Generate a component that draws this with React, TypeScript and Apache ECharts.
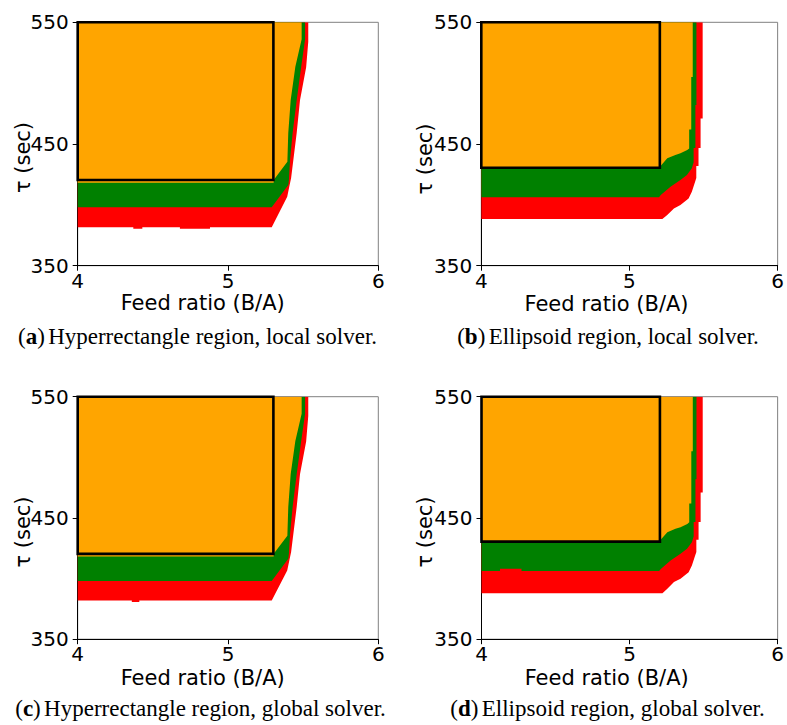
import React, { useEffect, useRef } from "react";
import * as echarts from "echarts";

type Pt = [number, number];

const X_TICKS = [4, 5, 6];
const Y_TICKS = [350, 450, 550];
const X_RANGE = [4, 6];
const Y_RANGE = [350, 550];

// (a) Hyperrectangle region, local solver
const A_RED: Pt[] = [[4, 550], [5.534, 550], [5.534, 534], [5.52, 513], [5.479, 486], [5.457, 459], [5.435, 437], [5.42, 422], [5.408, 415], [5.394, 406.6], [5.291, 381.5], [4.88, 381.5], [4.88, 380.3], [4.68, 380.3], [4.68, 381.5], [4.43, 381.5], [4.43, 380.3], [4.37, 380.3], [4.37, 381.5], [4, 381.5]];
const A_GREEN: Pt[] = [[4, 550], [5.513, 550], [5.513, 536], [5.487, 513.5], [5.457, 486], [5.43, 459], [5.413, 437], [5.405, 420], [5.401, 416.3], [5.291, 398], [4, 398]];
const A_ORANGE: Pt[] = [[4, 550], [5.49, 550], [5.49, 536], [5.448, 513.5], [5.417, 486], [5.401, 459], [5.395, 435.4], [5.304, 420.4], [5.304, 418.2], [4, 418.2]];
const A_RECT = [4, 5.302, 420.4, 550];

// (b) Ellipsoid region, local solver
const B_RED: Pt[] = [[4, 550], [5.494, 550], [5.494, 471], [5.48, 471], [5.48, 446.7], [5.466, 446.7], [5.466, 432], [5.451, 432], [5.451, 422], [5.443, 419], [5.421, 410.7], [5.399, 405.3], [5.344, 399.8], [5.3, 397.1], [5.255, 391.6], [5.222, 388.3], [4, 388.3]];
const B_GREEN: Pt[] = [[4, 550], [5.452, 550], [5.452, 482], [5.445, 482], [5.445, 446.7], [5.433, 446.7], [5.433, 435], [5.421, 430], [5.388, 424.5], [5.344, 420.4], [5.277, 414.9], [5.211, 408], [5.2, 406.2], [4, 406.2]];
const B_ORANGE: Pt[] = [[4, 550], [5.427, 550], [5.427, 505], [5.417, 505], [5.417, 462], [5.403, 462], [5.403, 446.4], [5.39, 445], [5.344, 442.3], [5.31, 441], [5.255, 438.2], [5.21, 432], [5.205, 431], [4, 431]];
const B_RECT = [4, 5.205, 430.5, 550];

// (c) Hyperrectangle region, global solver
const C_RED: Pt[] = [[4, 550], [5.534, 550], [5.534, 534], [5.52, 513], [5.479, 486], [5.457, 459], [5.435, 437], [5.42, 422], [5.408, 415], [5.394, 406.6], [5.291, 382], [4.41, 382], [4.41, 380.6], [4.36, 380.6], [4.36, 382], [4, 382]];
const C_GREEN: Pt[] = [[4, 550], [5.513, 550], [5.513, 536], [5.487, 513.5], [5.457, 486], [5.43, 459], [5.413, 437], [5.405, 420], [5.401, 416.3], [5.291, 398], [4, 398]];
const C_ORANGE: Pt[] = [[4, 550], [5.49, 550], [5.49, 536], [5.448, 513.5], [5.417, 486], [5.401, 459], [5.395, 435.4], [5.304, 420.4], [5.304, 418.2], [4, 418.2]];
const C_RECT = [4, 5.302, 420.4, 550];

// (d) Ellipsoid region, global solver
const D_RED: Pt[] = [[4, 550], [5.494, 550], [5.494, 471], [5.48, 471], [5.48, 446.7], [5.466, 446.7], [5.466, 432], [5.451, 432], [5.451, 422], [5.443, 419], [5.421, 410.7], [5.399, 405.3], [5.344, 399.8], [5.3, 397.1], [5.255, 391.6], [5.222, 388], [4, 388]];
const D_GREEN: Pt[] = [[4, 550], [5.452, 550], [5.452, 482], [5.445, 482], [5.445, 446.7], [5.433, 446.7], [5.433, 435], [5.421, 430], [5.388, 424.5], [5.344, 420.4], [5.277, 414.9], [5.211, 408], [5.2, 406.2], [4.27, 406.2], [4.27, 408.1], [4.125, 408.1], [4.125, 406.2], [4, 406.2]];
const D_ORANGE: Pt[] = [[4, 550], [5.427, 550], [5.427, 505], [5.417, 505], [5.417, 462], [5.403, 462], [5.403, 446.4], [5.39, 445], [5.344, 442.3], [5.31, 441], [5.255, 438.2], [5.21, 432], [5.205, 431], [4, 431]];
const D_RECT = [4, 5.205, 430.5, 550];

const LETTERS = ["a", "b", "c", "d"];
const CAPTIONS = [
  "Hyperrectangle region, local solver.",
  "Ellipsoid region, local solver.",
  "Hyperrectangle region, global solver.",
  "Ellipsoid region, global solver.",
];
const X_NAME = "Feed ratio (B/A)";
const Y_NAME = "\u03c4 (sec)";

const PANELS = [
  { red: A_RED, green: A_GREEN, orange: A_ORANGE, rect: A_RECT },
  { red: B_RED, green: B_GREEN, orange: B_ORANGE, rect: B_RECT },
  { red: C_RED, green: C_GREEN, orange: C_ORANGE, rect: C_RECT },
  { red: D_RED, green: D_GREEN, orange: D_ORANGE, rect: D_RECT },
];

// layout (pixels)
const GRIDS = [
  { left: 77.7, top: 22.3, width: 300.6, height: 243.4 },
  { left: 481.3, top: 22.3, width: 300.7, height: 243.4 },
  { left: 77.7, top: 396.7, width: 300.6, height: 242.5 },
  { left: 481.5, top: 396.7, width: 300.5, height: 242.5 },
];
const XNAME_POS = [[202.7, 303], [606.5, 303.5], [202.7, 677.5], [606.7, 677.5]];
const YNAME_POS = [[22.5, 157.5], [424.5, 159], [22.5, 532], [424.5, 532]];
const CAPTION_POS = [[197.5, 336], [608, 336], [200.5, 708], [607.5, 708]];

const COLORS = { red: "#ff0000", green: "#008000", orange: "#ffa500" };
const SANS = "'DejaVu Sans', sans-serif";
const SERIF = "'Liberation Serif', 'Times New Roman', serif";
const FS_TICK = 20;
const FS_NAME = 21;

function polySeries(idx: number, poly: Pt[], color: string) {
  return {
    type: "custom",
    xAxisIndex: idx,
    yAxisIndex: idx,
    silent: true,
    clip: true,
    data: [0],
    renderItem: (_p: any, api: any) => ({
      type: "polygon",
      shape: { points: poly.map((p) => api.coord(p)) },
      style: { fill: color, stroke: null },
    }),
  };
}

function rectSeries(idx: number, r: number[]) {
  return {
    type: "custom",
    xAxisIndex: idx,
    yAxisIndex: idx,
    silent: true,
    clip: false,
    data: [0],
    z: 5,
    renderItem: (_p: any, api: any) => ({
      type: "polygon",
      shape: {
        points: [
          api.coord([r[0], r[2]]),
          api.coord([r[1], r[2]]),
          api.coord([r[1], r[3]]),
          api.coord([r[0], r[3]]),
        ],
      },
      style: { fill: "none", stroke: "#000", lineWidth: 2.6 },
    }),
  };
}

export default function App() {
  const ref = useRef<HTMLDivElement>(null);
  useEffect(() => {
    if (!ref.current) return;
    const chart = echarts.init(ref.current, null, { renderer: "svg" });
    const grid = GRIDS.map((g) => ({
      ...g,
      show: true,
      borderColor: "#808080",
      borderWidth: 1,
      backgroundColor: "transparent",
      containLabel: false,
    }));
    const axisCommon = {
      axisLine: { show: true, onZero: false, lineStyle: { color: "#000", width: 1 } },
      splitLine: { show: false },
    };
    const xAxis = GRIDS.map((_, i) => ({
      type: "value",
      gridIndex: i,
      min: X_RANGE[0],
      max: X_RANGE[1],
      interval: 1,
      ...axisCommon,
      axisTick: { show: true, inside: false, length: 5, lineStyle: { color: "#000" }, customValues: X_TICKS },
      axisLabel: { fontSize: FS_TICK, lineHeight: 20, color: "#000", fontFamily: SANS, margin: 5, customValues: X_TICKS, showMinLabel: true, showMaxLabel: true },
    }));
    const yAxis = GRIDS.map((_, i) => ({
      type: "value",
      gridIndex: i,
      min: Y_RANGE[0],
      max: Y_RANGE[1],
      ...axisCommon,
      axisTick: { show: true, inside: false, length: 5, lineStyle: { color: "#000" }, customValues: Y_TICKS },
      axisLabel: { fontSize: FS_TICK, color: "#000", fontFamily: SANS, margin: 9, customValues: Y_TICKS, showMinLabel: true, showMaxLabel: true },
    }));
    const series: any[] = [];
    PANELS.forEach((p, i) => {
      series.push(polySeries(i, p.red, COLORS.red));
      series.push(polySeries(i, p.green, COLORS.green));
      series.push(polySeries(i, p.orange, COLORS.orange));
      series.push(rectSeries(i, p.rect));
    });
    const graphic: any[] = [];
    PANELS.forEach((_, i) => {
      graphic.push({
        type: "text",
        x: XNAME_POS[i][0],
        y: XNAME_POS[i][1],
        silent: true,
        style: { text: X_NAME, fill: "#000", font: `${FS_NAME}px ${SANS}`, lineHeight: 18, align: "center", verticalAlign: "middle" },
      });
      graphic.push({
        type: "text",
        x: YNAME_POS[i][0],
        y: YNAME_POS[i][1],
        rotation: Math.PI / 2,
        silent: true,
        style: { text: Y_NAME, fill: "#000", font: `${FS_NAME}px ${SANS}`, lineHeight: 16, align: "center", verticalAlign: "middle" },
      });
      graphic.push({
        type: "text",
        x: CAPTION_POS[i][0],
        y: CAPTION_POS[i][1],
        silent: true,
        style: {
          text: `{p|(}{b|${LETTERS[i]}}{p|)} {t|${CAPTIONS[i]}}`,
          align: "center",
          verticalAlign: "middle",
          rich: {
            p: { fontFamily: SERIF, fontSize: 23, fill: "#000" },
            b: { fontFamily: SERIF, fontSize: 23, fontWeight: "bold", fill: "#000" },
            t: { fontFamily: SERIF, fontSize: 23, fill: "#000" },
          },
        },
      });
    });
    chart.setOption({
      animation: false,
      backgroundColor: "#fff",
      grid,
      xAxis,
      yAxis,
      series,
      graphic,
    });
    return () => chart.dispose();
  }, []);
  return (
    <div
      ref={ref}
      style={{ position: "absolute", left: 0, top: 0, width: 787, height: 725 }}
    />
  );
}
